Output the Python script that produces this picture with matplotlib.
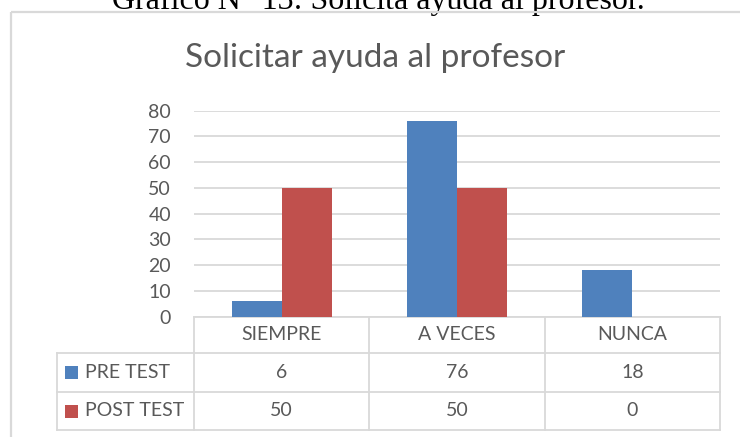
import matplotlib
matplotlib.use("Agg")
import matplotlib.pyplot as plt
import numpy as np
from matplotlib.transforms import blended_transform_factory
from matplotlib.patches import Rectangle

# data
categories = ['SIEMPRE', 'A VECES', 'NUNCA']
series_names = ['PRE TEST', 'POST TEST']
pre_test = [6, 76, 18]
post_test = [50, 50, 0]
y_ticks = [0, 10, 20, 30, 40, 50, 60, 70, 80]

blue = '#4f81bd'
red = '#c0504d'
grid_color = '#d9d9d9'
text_color = '#595959'
font = 'Lato'

W, H = 740, 437
fig = plt.figure(figsize=(W / 100, H / 100), dpi=100)

# overlay in pixel coordinates (origin top-left)
over = fig.add_axes([0, 0, 1, 1])
over.set_xlim(0, W)
over.set_ylim(H, 0)
over.axis('off')

# plot area in pixels
px_left, px_right = 194, 720
px_top, px_zero = 110.7, 316.5
ax = fig.add_axes([px_left / W, (H - px_zero) / H,
                   (px_right - px_left) / W, (px_zero - px_top) / H])
ax.set_zorder(2)
ax.patch.set_alpha(0)

x = np.arange(len(categories))
bw = 0.285
ax.bar(x - bw / 2, pre_test, bw, color=blue, zorder=3)
ax.bar(x + bw / 2, post_test, bw, color=red, zorder=3)
ax.set_xlim(-0.5, len(categories) - 0.5)
ax.set_ylim(0, 80)
ax.set_yticks(y_ticks)
ax.set_yticklabels([str(v) for v in y_ticks], fontsize=14, color=text_color, family=font)
ax.tick_params(axis='y', length=0, pad=16.5)
ax.set_xticks([])
ax.grid(axis='y', color=grid_color, linewidth=1.3, zorder=0)
for s in ax.spines.values():
    s.set_visible(False)

# outer chart frame and caption (caption is cut by the top edge, as in the source)
over.text(645, 9, 'Gráfico N° 13: Solicita ayuda al profesor.', ha='right', va='baseline',
          fontsize=23, family='Liberation Serif', color='black', zorder=1)
over.plot([11, W], [12, 12], color=grid_color, lw=1.6, zorder=2, solid_capstyle='butt')
over.plot([11, 11], [12, H], color=grid_color, lw=1.6, zorder=2, solid_capstyle='butt')

# title
over.text(375, 67, 'Solicitar ayuda al profesor', ha='center', va='baseline',
          fontsize=24, family=font, color=text_color)

# data table
tr = blended_transform_factory(ax.transData, over.transData)
rows_y = [px_zero, 353, 392, 430]
edges = np.arange(len(categories) + 1) - 0.5
lab_left = 57
lw = 1.3
for i, yy in enumerate(rows_y):
    over.plot([edges[0], edges[-1]], [yy, yy], color=grid_color, lw=lw, transform=tr)
    if i >= 1:
        over.plot([lab_left, px_left], [yy, yy], color=grid_color, lw=lw)
for e in edges:
    over.plot([e, e], [rows_y[0], rows_y[-1]], color=grid_color, lw=lw, transform=tr)
over.plot([lab_left, lab_left], [rows_y[1], rows_y[-1]], color=grid_color, lw=lw)

for j, c in enumerate(categories):
    over.text(j, (rows_y[0] + rows_y[1]) / 2, c, ha='center', va='center',
              fontsize=14, family=font, color=text_color, transform=tr)

for r, (name, vals, col) in enumerate(zip(series_names, [pre_test, post_test], [blue, red])):
    yc = (rows_y[r + 1] + rows_y[r + 2]) / 2
    over.add_patch(Rectangle((65, yc - 6.5), 13, 13, facecolor=col, edgecolor='none'))
    over.text(85, yc, name, ha='left', va='center', fontsize=14, family=font, color=text_color)
    for j, v in enumerate(vals):
        over.text(j, yc, str(v), ha='center', va='center', fontsize=14,
                  family=font, color=text_color, transform=tr)

fig.savefig('out.png', dpi=100, facecolor='white')
